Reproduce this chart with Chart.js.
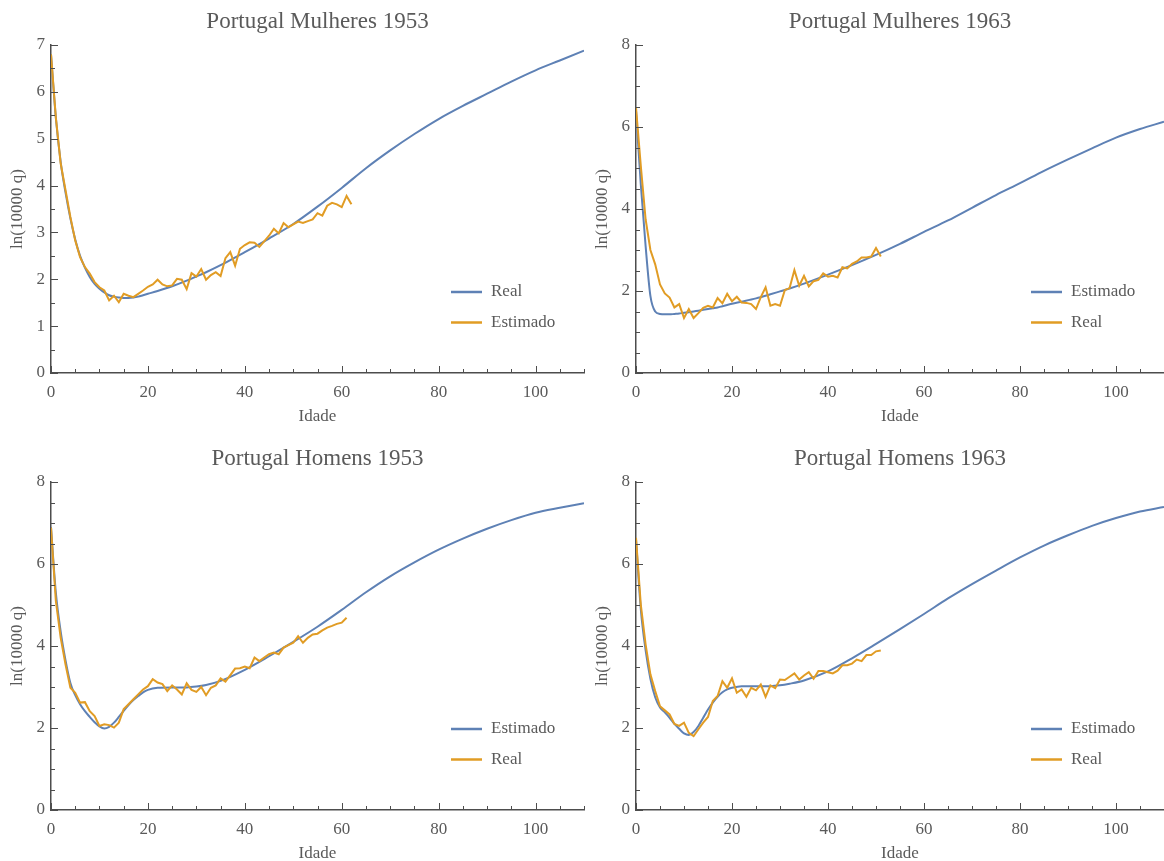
<!DOCTYPE html>
<html>
<head>
<meta charset="utf-8">
<script src="https://cdn.jsdelivr.net/npm/chart.js@4.4.0/dist/chart.umd.min.js"></script>
<style>
  body { margin: 0; background: #fff; width: 1164px; height: 861px; overflow: hidden; position: relative; }
  canvas { position: absolute; }
</style>
</head>
<body>
<canvas id="c1" width="590" height="436" style="left:0;top:0"></canvas>
<canvas id="c2" width="574" height="436" style="left:590px;top:0"></canvas>
<canvas id="c3" width="590" height="425" style="left:0;top:436px"></canvas>
<canvas id="c4" width="574" height="425" style="left:590px;top:436px"></canvas>
<script>
// ages for the observed (jagged) series
const idades = [0,1,2,3,4,5,6,7,8,9,10,11,12,13,14,15,16,17,18,19,20,21,22,23,24,25,26,27,28,29,30,
  31,32,33,34,35,36,37,38,39,40,41,42,43,44,45,46,47,48,49,50,51,52,53,54,55,56,57,58,59,60,61,62]

// ages for the smooth fitted curves
const idadesCurva = [0,1,2,3,4,5,6,7,8,9,10,11,12,13,14,15,16,17,18,19,20,22,25,28,30,32,35,
  40,45,50,55,60,65,70,75,80,85,90,95,100,105,110]

// Mulheres 1953
const curvaF53 = [6.8,5.45,4.5,3.85,3.3,2.85,2.5,2.25,2.05,1.9,1.8,1.72,1.66,1.63,1.61,1.6,1.6,1.61,1.63,1.66,1.69,
  1.75,1.85,1.97,2.06,2.15,2.3,2.58,2.87,3.18,3.55,3.95,4.37,4.75,5.1,5.42,5.7,5.96,6.22,6.46,6.67,6.88]
const obsF53 = [6.8,5.45,4.47,3.9,3.33,2.83,2.47,2.26,2.12,1.94,1.83,1.76,1.55,1.65,1.51,1.69,1.65,1.62,1.69,1.76,
  1.84,1.89,1.99,1.89,1.85,1.87,2.01,1.99,1.79,2.13,2.06,2.22,1.99,2.09,2.15,2.07,2.45,2.58,2.29,2.65,
  2.73,2.79,2.78,2.69,2.81,2.93,3.08,2.98,3.2,3.11,3.17,3.23,3.2,3.24,3.28,3.41,3.36,3.57,3.63,3.6,3.54,3.78,3.6]

// Mulheres 1963
const curvaF63 = [6.4,4.6,3.1,1.88,1.5,1.44,1.43,1.43,1.44,1.45,1.47,1.48,1.5,1.52,1.54,1.56,1.58,1.6,1.63,1.66,1.69,
  1.74,1.82,1.92,1.99,2.06,2.18,2.4,2.63,2.88,3.15,3.44,3.72,4.03,4.34,4.63,4.93,5.21,5.48,5.74,5.95,6.13]
const obsF63 = [6.47,5.05,3.75,3.0,2.65,2.16,1.94,1.84,1.6,1.68,1.34,1.56,1.34,1.46,1.59,1.64,1.6,1.83,1.7,1.93,
  1.75,1.86,1.72,1.71,1.68,1.56,1.85,2.09,1.64,1.68,1.64,2.02,2.07,2.51,2.13,2.37,2.11,2.24,2.27,2.43,
  2.35,2.37,2.33,2.58,2.55,2.66,2.72,2.82,2.82,2.84,3.05,2.84]

// Homens 1953
const curvaM53 = [6.9,5.3,4.35,3.65,3.1,2.8,2.58,2.41,2.27,2.14,2.04,1.99,2.03,2.13,2.27,2.42,2.56,2.68,2.78,2.87,2.93,
  2.98,2.99,2.99,3.01,3.05,3.15,3.42,3.75,4.1,4.47,4.88,5.31,5.7,6.04,6.35,6.62,6.86,7.07,7.25,7.37,7.48]
const obsM53 = [6.89,5.1,4.2,3.55,2.98,2.86,2.62,2.63,2.41,2.29,2.05,2.09,2.07,2.01,2.13,2.46,2.58,2.7,2.82,2.94,
  3.02,3.19,3.11,3.07,2.9,3.04,2.94,2.82,3.09,2.93,2.88,3.0,2.8,2.98,3.04,3.21,3.13,3.29,3.45,3.46,
  3.5,3.46,3.72,3.63,3.72,3.8,3.84,3.8,3.96,4.02,4.08,4.24,4.08,4.2,4.28,4.3,4.38,4.45,4.49,4.54,4.57,4.69]

// Homens 1963
const curvaM63 = [6.6,4.9,3.9,3.2,2.75,2.5,2.38,2.25,2.1,1.98,1.87,1.83,1.9,2.05,2.25,2.45,2.62,2.76,2.87,2.94,2.98,
  3.02,3.02,3.02,3.04,3.08,3.16,3.38,3.7,4.05,4.41,4.78,5.16,5.51,5.84,6.16,6.45,6.7,6.93,7.12,7.28,7.39]
const obsM63 = [6.64,5.01,4.04,3.31,2.9,2.53,2.43,2.33,2.1,2.05,2.13,1.88,1.8,1.97,2.13,2.27,2.66,2.78,3.14,2.98,
  3.21,2.86,2.94,2.76,2.98,2.92,3.06,2.76,3.04,2.97,3.18,3.17,3.25,3.33,3.18,3.28,3.36,3.2,3.39,3.39,
  3.36,3.33,3.4,3.53,3.53,3.57,3.67,3.63,3.78,3.78,3.87,3.89]

const BLUE = '#5e81b5'
const ORANGE = '#e19c24'
const TXT = '#5a5a5a'
const AXIS = '#4d4d4d'
const FONT = '"Liberation Serif", "Times New Roman", serif'

function pontos(xs, ys)
{
  return ys.map(function(v, i){ return { x: xs[i], y: v } })
}

// titles, inner ticks and the legend inside the plot
const decor = {
  id: 'decor',
  afterDraw(chart)
  {
    const ctx = chart.ctx
    const a = chart.chartArea
    const o = chart.options.plugins.decor
    const xs = chart.scales.x
    const ys = chart.scales.y
    ctx.save()

    ctx.strokeStyle = AXIS
    ctx.lineWidth = 1
    ys.ticks.forEach(function(t){
      const y = Math.round(ys.getPixelForValue(t.value)) + 0.5
      const len = Math.abs(t.value % o.yMajor) < 1e-6 ? 7 : 4
      ctx.beginPath(); ctx.moveTo(a.left, y); ctx.lineTo(a.left + len, y); ctx.stroke()
    })
    xs.ticks.forEach(function(t){
      const x = Math.round(xs.getPixelForValue(t.value)) + 0.5
      const len = t.value % 20 === 0 ? 7 : 4
      ctx.beginPath(); ctx.moveTo(x, a.bottom); ctx.lineTo(x, a.bottom - len); ctx.stroke()
    })

    const cx = (a.left + a.right) / 2
    ctx.fillStyle = TXT
    ctx.textAlign = 'center'
    ctx.textBaseline = 'middle'
    ctx.font = '23px ' + FONT
    ctx.fillText(o.title, cx, a.top - 23)

    ctx.font = '17px ' + FONT
    ctx.fillText('Idade', cx, a.bottom + 44)
    ctx.save()
    ctx.translate(a.left - 33, (a.top + a.bottom) / 2)
    ctx.rotate(-Math.PI / 2)
    ctx.fillText('ln(10000 q)', 0, 0)
    ctx.restore()

    ctx.textAlign = 'left'
    chart.data.datasets.forEach(function(ds, i){
      const y = a.bottom - 81 + i * 30.5
      ctx.strokeStyle = ds.borderColor
      ctx.lineWidth = 2.5
      ctx.beginPath(); ctx.moveTo(a.right - 133, y); ctx.lineTo(a.right - 102, y); ctx.stroke()
      ctx.fillText(ds.label, a.right - 93, y)
    })
    ctx.restore()
  }
}

function grafico(id, titulo, yWidth, pad, yMax, yMajor, labelCurva, curva, labelObs, obs)
{
  const ctx = document.getElementById(id).getContext('2d')
  return new Chart(ctx, {
    type: 'line',
    data: {
      datasets: [{
        label: labelCurva,
        data: pontos(idadesCurva, curva),
        borderColor: BLUE,
        borderWidth: 2,
        pointRadius: 0,
        cubicInterpolationMode: 'monotone',
        order: 1
      }, {
        label: labelObs,
        data: pontos(idades, obs),
        borderColor: ORANGE,
        borderWidth: 2,
        pointRadius: 0,
        tension: 0,
        order: 0
      }]
    },
    options: {
      responsive: false,
      animation: false,
      layout: { padding: pad },
      plugins: {
        legend: { display: false },
        tooltip: { enabled: false },
        decor: { title: titulo, yMajor: yMajor }
      },
      scales: {
        x: {
          type: 'linear', min: 0, max: 110,
          afterFit: function(s){ s.height = 40; s.paddingLeft = 0; s.paddingRight = 0 },
          grid: { drawOnChartArea: false, drawTicks: false },
          border: { color: AXIS, width: 1.5 },
          ticks: {
            stepSize: 5, autoSkip: false, maxRotation: 0, padding: 9,
            color: TXT, font: { family: FONT, size: 17 },
            callback: function(v){ return v % 20 === 0 ? String(v) : '' }
          }
        },
        y: {
          type: 'linear', min: 0, max: yMax,
          afterFit: function(s){ s.width = yWidth; s.paddingTop = 0; s.paddingBottom = 0 },
          grid: { drawOnChartArea: false, drawTicks: false },
          border: { color: AXIS, width: 1.5 },
          ticks: {
            stepSize: 0.5, autoSkip: false, padding: 6,
            color: TXT, font: { family: FONT, size: 17 },
            callback: function(v){ return Math.abs(v % yMajor) < 1e-6 ? String(v) : '' }
          }
        }
      }
    },
    plugins: [decor]
  })
}

grafico('c1', 'Portugal Mulheres 1953', 51, { left: 0, top: 45, right: 6, bottom: 23 }, 7, 1,
  'Real', curvaF53, 'Estimado', obsF53)
grafico('c2', 'Portugal Mulheres 1963', 46, { left: 0, top: 45, right: 0, bottom: 23 }, 8, 2,
  'Estimado', curvaF63, 'Real', obsF63)
grafico('c3', 'Portugal Homens 1953', 51, { left: 0, top: 46, right: 6, bottom: 11 }, 8, 2,
  'Estimado', curvaM53, 'Real', obsM53)
grafico('c4', 'Portugal Homens 1963', 46, { left: 0, top: 46, right: 0, bottom: 11 }, 8, 2,
  'Estimado', curvaM63, 'Real', obsM63)
</script>
</body>
</html>
